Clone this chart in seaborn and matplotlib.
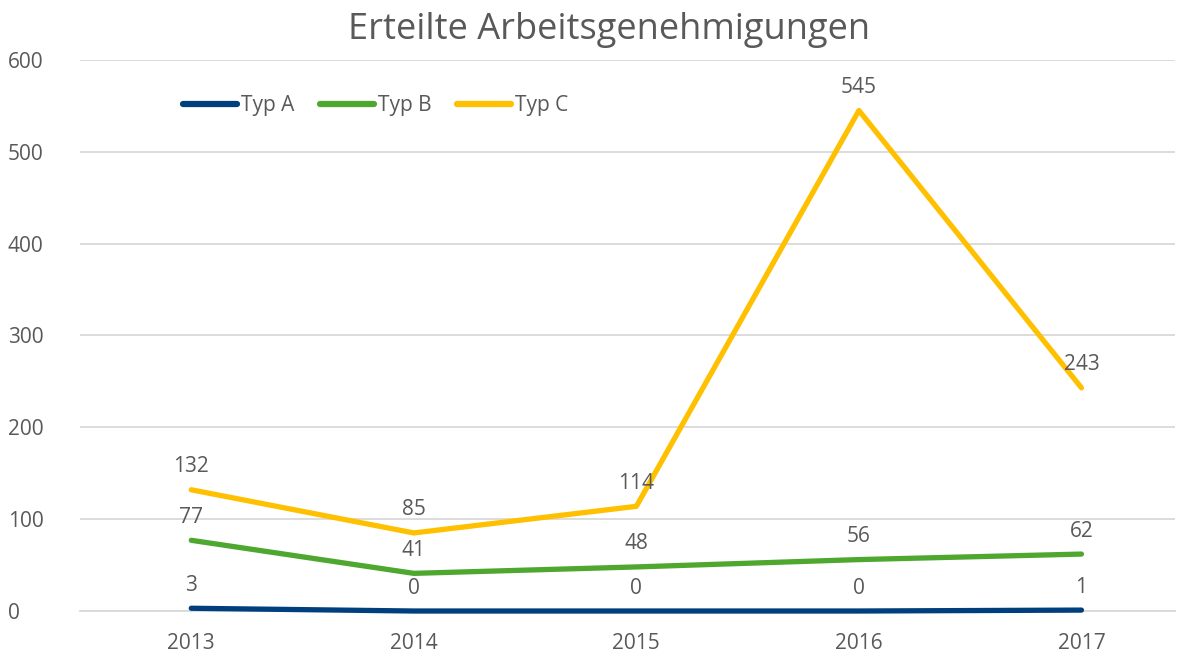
import matplotlib
matplotlib.use("Agg")
import matplotlib.pyplot as plt
import seaborn as sns
import pandas as pd

years = ["2013", "2014", "2015", "2016", "2017"]
typ_a = [3, 0, 0, 0, 1]
typ_b = [77, 41, 48, 56, 62]
typ_c = [132, 85, 114, 545, 243]
series_names = ["Typ A", "Typ B", "Typ C"]
colors = ["#003f7d", "#4ea72e", "#ffc000"]

sns.set_theme(style="white")
plt.rcParams["font.family"] = ["Open Sans", "DejaVu Sans"]
text_color = "#595959"

df = pd.DataFrame({"Jahr": years * 3,
                   "Wert": typ_a + typ_b + typ_c,
                   "Serie": [s for s in series_names for _ in years]})

fig = plt.figure(figsize=(11.85, 6.57), dpi=100)
ax = fig.add_axes([0.0675, 0.070, 0.924, 0.8387])

sns.lineplot(data=df, x="Jahr", y="Wert", hue="Serie", palette=colors,
             linewidth=3.8, ax=ax, sort=False)
for ln in ax.get_lines():
    ln.set_clip_on(False)
    ln.set_solid_capstyle("round")
    ln.set_zorder(3)

for vals in [typ_a, typ_b, typ_c]:
    for i, v in enumerate(vals):
        ax.annotate(str(v), (i, v), xytext=(0, 9), textcoords="offset points",
                    ha="center", va="bottom", fontsize=15, color=text_color)

ax.set_ylim(0, 600)
ax.set_xlim(-0.5, 4.42)
ax.set_yticks([0, 100, 200, 300, 400, 500, 600])
ax.yaxis.grid(True, color="#d9d9d9", linewidth=1.3)
ax.set_axisbelow(True)
for s in ["top", "right", "left"]:
    ax.spines[s].set_visible(False)
ax.spines["bottom"].set_color("#d9d9d9")
ax.spines["bottom"].set_linewidth(1.3)
ax.tick_params(axis="both", labelsize=15, colors=text_color, length=0)
ax.tick_params(axis="x", pad=16)
for lbl in ax.get_yticklabels():
    lbl.set_horizontalalignment("left")
ax.tick_params(axis="y", pad=52)
ax.set_xlabel("")
ax.set_ylabel("")

fig.text(0.514, 0.955, "Erteilte Arbeitsgenehmigungen", ha="center", va="center",
         fontsize=26, color=text_color)

leg = ax.legend(loc="upper left", bbox_to_anchor=(0.077, 0.97), ncol=3, frameon=False,
                fontsize=15, handlelength=2.6, handletextpad=0.2, columnspacing=1.2,
                labelcolor=text_color)
for h in leg.get_lines():
    h.set_linewidth(4.5)
    h.set_solid_capstyle("round")

fig.savefig("out.png", dpi=100, facecolor="white")
